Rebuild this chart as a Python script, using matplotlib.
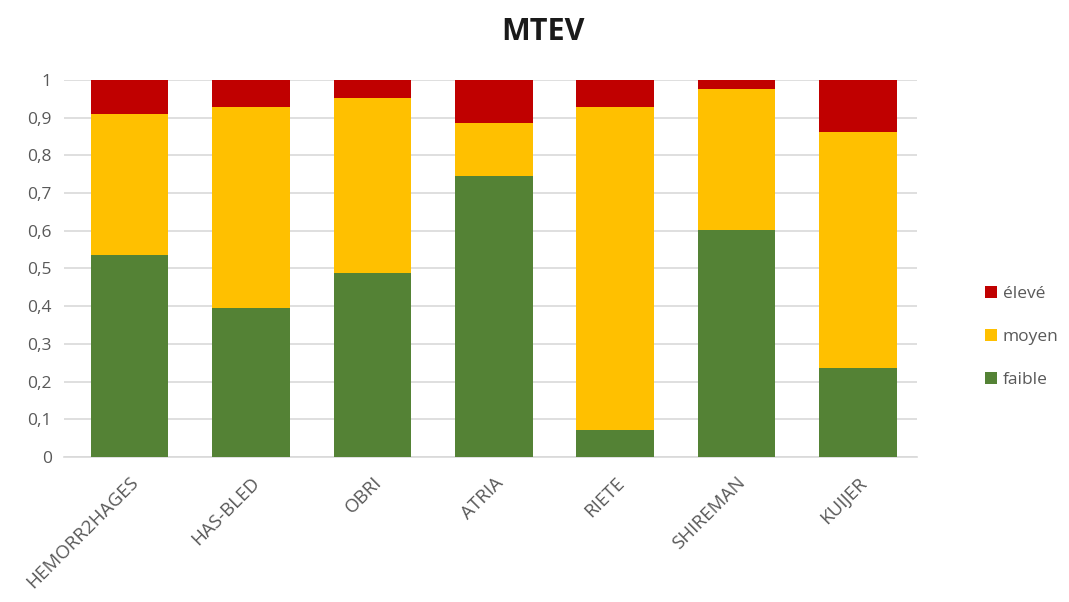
import matplotlib.pyplot as plt
import numpy as np

scores = ["HEMORR2HAGES", "HAS-BLED", "OBRI", "ATRIA", "RIETE", "SHIREMAN", "KUIJER"]
faible = [0.535, 0.396, 0.487, 0.746, 0.071, 0.602, 0.235]
moyen = [0.375, 0.533, 0.465, 0.139, 0.858, 0.374, 0.628]
eleve = [0.090, 0.071, 0.048, 0.115, 0.071, 0.024, 0.137]

plt.rcParams['font.family'] = ['Open Sans', 'DejaVu Sans']

fig = plt.figure(figsize=(10.69, 6.02), dpi=100)
ax = fig.add_axes([0.06, 0.241, 0.798, 0.626])

x = np.arange(len(scores))
w = 0.64
b1 = ax.bar(x, faible, w, color="#548235", label="faible", zorder=3)
b2 = ax.bar(x, moyen, w, bottom=faible, color="#FFC000", label="moyen", zorder=3)
bottom2 = np.array(faible) + np.array(moyen)
b3 = ax.bar(x, eleve, w, bottom=bottom2, color="#C00000", label="élevé", zorder=3)

ax.set_xlim(-0.54, 6.49)
ax.set_ylim(0, 1)
ax.set_yticks(np.arange(0, 1.01, 0.1))
ax.set_yticklabels(["0"] + [f"0,{i}" for i in range(1, 10)] + ["1"])
ax.yaxis.grid(True, color="#D9D9D9", linewidth=1.2, zorder=0)
for s in ["top", "right", "left"]:
    ax.spines[s].set_visible(False)
ax.spines["bottom"].set_color("#D9D9D9")
ax.spines["bottom"].set_linewidth(1.2)
ax.tick_params(axis="both", length=0, colors="#595959", labelsize=12.5)
ax.tick_params(axis="y", pad=9)
ax.tick_params(axis="x", pad=12)
ax.set_xticks(x)
ax.set_xticklabels(scores, rotation=45, ha="right", rotation_mode="anchor", fontsize=13.5)

fig.suptitle("MTEV", x=0.508, y=0.972, fontsize=22, fontweight="bold", color="#1a1a1a")

fig.legend([b3, b2, b1], ["élevé", "moyen", "faible"], loc="center left",
           bbox_to_anchor=(0.907, 0.44), frameon=False, fontsize=12.5,
           handlelength=0.7, handleheight=0.7, handletextpad=0.3, labelspacing=1.55,
           labelcolor="#595959")

fig.savefig("out.png", dpi=100)
